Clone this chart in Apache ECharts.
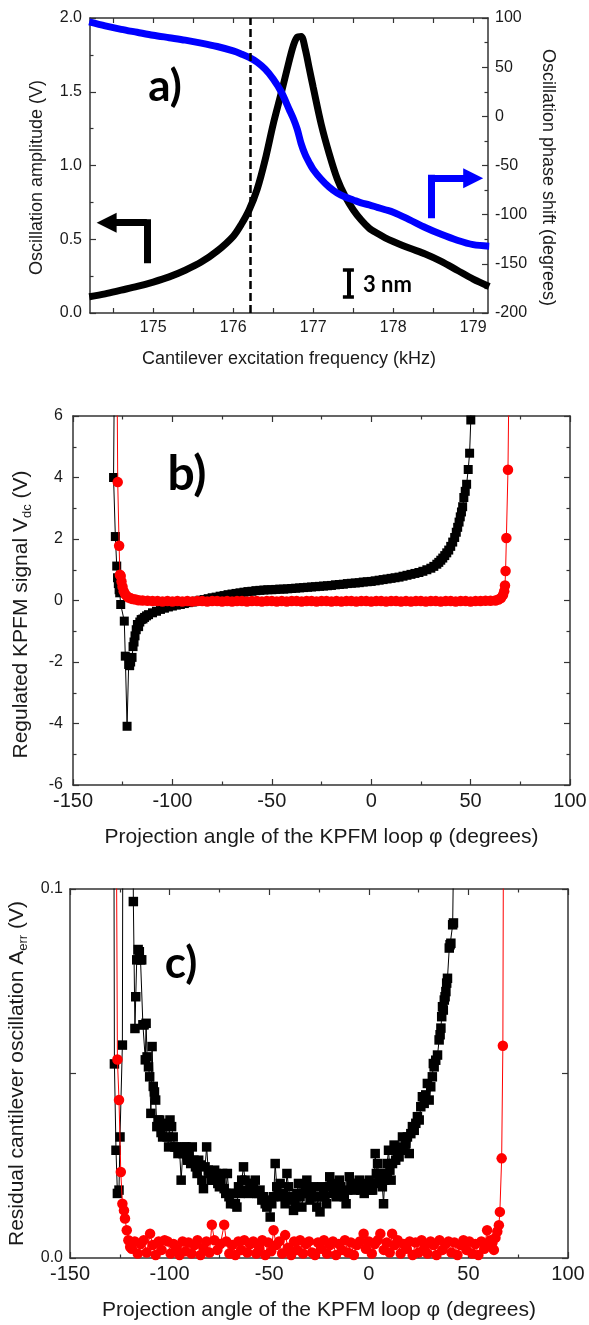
<!DOCTYPE html>
<html><head><meta charset="utf-8">
<script src="https://cdn.jsdelivr.net/npm/echarts@6/dist/echarts.min.js"></script>
<style>html,body{margin:0;padding:0;background:#fff}#c{width:589px;height:1325px}</style>
</head><body><div id="c"></div>
<script>
// ---------- Panel a) ----------
const freq = [174.2, 174.4, 174.6, 174.8, 175.0, 175.2, 175.4, 175.6, 175.8, 176.0,
  176.1, 176.2, 176.3, 176.4, 176.5, 176.6, 176.7, 176.75, 176.8, 176.85, 176.9, 176.95,
  177.0, 177.1, 177.2, 177.3, 177.4, 177.5, 177.6, 177.7, 177.8, 177.9, 178.0,
  178.2, 178.4, 178.6, 178.8, 179.0, 179.2];
const amplitude = [0.11, 0.13, 0.155, 0.18, 0.21, 0.245, 0.29, 0.345, 0.42, 0.52,
  0.60, 0.70, 0.84, 1.04, 1.28, 1.49, 1.71, 1.81, 1.87, 1.875, 1.79, 1.66,
  1.53, 1.28, 1.08, 0.91, 0.79, 0.70, 0.63, 0.575, 0.54, 0.51, 0.485,
  0.44, 0.40, 0.35, 0.29, 0.23, 0.18];
const phase = [96, 92, 88.5, 85.5, 82.5, 80, 77.5, 74.5, 71, 66.5,
  63.5, 60, 55, 48, 38, 25, 7, -2, -13, -28, -39, -47,
  -54, -64, -72, -78, -82, -85, -88, -90, -92.5, -95, -97.5,
  -105, -113, -120, -126, -130.5, -132];
const freqTickLabels = [175, 176, 177, 178, 179];
const freqTickMarks = [174.5, 175, 175.5, 176, 176.5, 177, 177.5, 178, 178.5, 179];
const workingFreq = 176.21;

// ---------- Panel b) ----------
const angleBBlack = [-129.0, -129.6, -128.7, -128.0, -127.6, -127.2, -126.8, -126.5, -126.0,
  -124.2, -123.7, -122.8, -122.0, -121.5, -121.0, -120.3, -119.8, -119.3, -118.8,
  -118.2, -117.6, -117.0, -116.4, -115.7, -114.8, -114.0, -113.0, -112.0,
  -110, -108, -106, -104, -102, -100,
  -98, -96, -94, -92, -90, -88, -86, -84, -82, -80,
  -78, -76, -74, -72, -70, -68, -66, -64, -62, -60,
  -58, -56, -54, -52, -50, -48, -46, -44, -42, -40,
  -38, -36, -34, -32, -30, -28, -26, -24, -22, -20,
  -18, -16, -14, -12, -10, -8, -6, -4, -2, 0,
  2, 4, 6, 8, 10, 12, 14, 16, 18, 20,
  22, 24, 26, 28, 30,
  31.5, 33, 34, 35, 36, 37, 38, 39, 40, 41, 42,
  42.8, 43.5, 44.2, 44.8, 45.4, 46.0, 46.6, 47.3, 48.0, 48.8, 49.5, 50.1, 50.6];
const vdcBlack = [9, 4.0, 2.08, 1.12, 0.74, 0.55, 0.35, 0.25, -0.13,
  -0.67, -1.81, -4.09, -2.08, -2.12, -2.0, -1.85, -1.5, -1.35, -1.15,
  -0.95, -0.78, -0.85, -0.70, -0.62, -0.60, -0.55, -0.50, -0.46,
  -0.40, -0.35, -0.29, -0.25, -0.21, -0.18,
  -0.15, -0.13, -0.10, -0.07, -0.05, -0.02, 0.01, 0.03, 0.06, 0.09,
  0.11, 0.14, 0.16, 0.19, 0.21, 0.23, 0.25, 0.27, 0.29, 0.30,
  0.32, 0.33, 0.34, 0.35, 0.35, 0.36, 0.37, 0.37, 0.38, 0.39,
  0.40, 0.41, 0.42, 0.43, 0.44, 0.45, 0.46, 0.47, 0.48, 0.49,
  0.51, 0.52, 0.53, 0.55, 0.56, 0.57, 0.58, 0.60, 0.61, 0.62,
  0.64, 0.66, 0.68, 0.70, 0.72, 0.74, 0.76, 0.79, 0.82, 0.85,
  0.88, 0.91, 0.95, 1.00, 1.05,
  1.11, 1.18, 1.24, 1.31, 1.38, 1.46, 1.55, 1.64, 1.76, 1.90, 2.05,
  2.22, 2.38, 2.55, 2.72, 2.88, 3.05, 3.35, 3.55, 3.78, 4.26, 4.79, 5.87, 9];
const angleBRed = [-128.0, -127.5, -126.8, -126.4, -126.0, -125.6, -125.1, -124.5, -123.8, -123.0,
  -122.0, -121.0, -120.0, -118.5, -117.0,
  -115, -112.5, -110, -107.5, -105, -102.5, -100, -97.5, -95, -92.5,
  -90, -87.5, -85, -82.5, -80, -77.5, -75, -72.5, -70, -67.5,
  -65, -62.5, -60, -57.5, -55, -52.5, -50, -47.5, -45, -42.5,
  -40, -37.5, -35, -32.5, -30, -27.5, -25, -22.5, -20, -17.5,
  -15, -12.5, -10, -7.5, -5, -2.5, 0, 2.5, 5, 7.5,
  10, 12.5, 15, 17.5, 20, 22.5, 25, 27.5, 30, 32.5,
  35, 37.5, 40, 42.5, 45, 47.5, 50, 52.5, 55, 57.5, 60, 62.5,
  64, 65.3, 66.3, 66.9, 67.3, 67.6, 68.0, 68.8, 69.6];
const vdcRed = [9, 3.85, 1.78, 0.84, 0.80, 0.62, 0.45, 0.30, 0.21, 0.15,
  0.10, 0.07, 0.05, 0.03, 0.01,
  0.0, -0.01, -0.02, -0.02, -0.03, -0.02, -0.03, -0.02, -0.03, -0.02,
  -0.03, -0.02, -0.02, -0.03, -0.02, -0.02, -0.03, -0.02, -0.03, -0.02,
  -0.02, -0.03, -0.02, -0.02, -0.03, -0.02, -0.02, -0.03, -0.02, -0.03,
  -0.02, -0.02, -0.03, -0.02, -0.02, -0.03, -0.02, -0.02, -0.03, -0.02,
  -0.03, -0.02, -0.02, -0.03, -0.02, -0.02, -0.03, -0.02, -0.02, -0.03,
  -0.02, -0.02, -0.03, -0.02, -0.03, -0.02, -0.02, -0.03, -0.02, -0.02,
  -0.03, -0.02, -0.02, -0.03, -0.02, -0.02, -0.03, -0.02, -0.02, -0.01, -0.01, 0.0,
  0.03, 0.08, 0.18, 0.30, 0.49, 0.96, 2.03, 4.25, 9];

// ---------- Panel c) ----------
const angleCBlack = [-128.3, -127.7, -126.9, -126.2, -125.4, -124.9, -123.7, -123.0, -121.0, -119.0,
  -118.2, -117.4, -117.0, -116.5, -115.8, -115.2, -114.6, -114.0, -113.4, -112.8,
  -112.2, -111.8, -111.3, -110.6, -110.0, -109.4, -108.8, -108.2, -107.6, -107.0,
  -106.4, -105.8, -105.0, -104.3, -103.5, -102.8, -102.0, -101.2, -100.5, -99.8,
  -99.0, -98.2, -97.4, -96.6, -95.8, -95.0, -94.2, -93.4, -92.6, -91.8,
  -91.0, -90.2, -89.4, -88.6, -87.8, -87.0, -86.2, -85.4, -84.6, -83.8,
  -83.0, -82.2, -81.4, -80.6, -79.8, -79.0, -78.2, -77.4, -76.6, -75.8,
  -75.0, -74.2, -73.4, -72.6, -71.8, -71.0, -70.2, -69.4, -68.6, -67.8,
  -67.0, -66.2, -65.4, -64.6, -63.8, -62.9, -62.1, -61.3, -60.4, -59.6,
  -58.7, -57.9, -57.0, -56.2, -55.4, -54.6, -53.7, -52.8, -52.0, -51.2,
  -50.3, -49.5, -48.7, -47.8, -47.0, -46.2, -45.3, -44.5, -43.6, -42.8,
  -42.0, -41.1, -40.3, -39.4, -38.6, -37.8, -37.0, -36.1, -35.3, -34.5,
  -33.6, -32.8, -32.0, -31.1, -30.3, -29.5, -28.6, -27.8, -27.0, -26.1,
  -25.3, -24.5, -23.6, -22.8, -22.0, -21.2, -20.4, -19.6, -18.8, -18.0,
  -17.2, -16.4, -15.6, -14.8, -14.0, -13.1, -12.3, -11.4, -10.6, -9.8,
  -9.0, -8.1, -7.3, -6.5, -5.6, -4.8, -4.0, -3.1, -2.3, -1.5,
  -0.6, 0.2, 1.0, 1.9, 2.7, 3.2, 3.8, 4.4, 5.2, 6.1,
  6.8, 7.4, 8.0, 8.5, 9.2, 9.9, 10.6, 11.2, 11.9, 12.7,
  13.5, 14.4, 15.2, 16.0, 16.9, 17.7, 18.6, 19.4, 20.3, 21.1,
  21.9, 22.8, 23.6, 24.4, 25.3, 26.1, 26.9, 27.8, 28.6, 29.4,
  30.3, 31.1, 31.9, 32.4, 32.8, 33.6, 34.5, 35.3, 35.8, 36.2,
  36.6, 37.0, 37.4, 37.9, 38.3, 38.7, 39.1, 39.5, 40.4, 40.8,
  41.2, 42.1, 42.5, 43.5];
const aerrBlack = [0.2, 0.0526, 0.0292, 0.0175, 0.0184, 0.0328, 0.0577, 0.25, 0.3, 0.2,
  0.0966, 0.0622, 0.0708, 0.0808, 0.0836, 0.083, 0.0808, 0.0808, 0.0632, 0.0632,
  0.0537, 0.0636, 0.0545, 0.0518, 0.0491, 0.0392, 0.0573, 0.0465, 0.045, 0.0428,
  0.0356, 0.0374, 0.0374, 0.034, 0.0328, 0.0365, 0.0356, 0.0328, 0.0301, 0.0374,
  0.0356, 0.0328, 0.0301, 0.0301, 0.0283, 0.0292, 0.0211, 0.0283, 0.0301, 0.0301,
  0.0265, 0.0283, 0.0256, 0.0301, 0.0265, 0.0247, 0.0229, 0.0265, 0.0252, 0.0211,
  0.0188, 0.0247, 0.0301, 0.0238, 0.0229, 0.0211, 0.0211, 0.0238, 0.0229, 0.0202,
  0.0193, 0.0211, 0.0229, 0.0188, 0.0175, 0.0229, 0.0166, 0.0147, 0.0175, 0.0175,
  0.0147, 0.0138, 0.0193, 0.0175, 0.0211, 0.0247, 0.0211, 0.0184, 0.0175, 0.0202,
  0.0202, 0.0193, 0.0211, 0.0175, 0.0175, 0.0184, 0.0157, 0.0166, 0.0147, 0.0138,
  0.0157, 0.0111, 0.0147, 0.0166, 0.0256, 0.0193, 0.0175, 0.0202, 0.0166, 0.0175,
  0.0147, 0.0229, 0.0193, 0.0157, 0.0166, 0.0129, 0.0147, 0.0175, 0.0202, 0.0166,
  0.0138, 0.0175, 0.0193, 0.0211, 0.0175, 0.0157, 0.0175, 0.0193, 0.0166, 0.0138,
  0.0166, 0.0125, 0.0193, 0.0175, 0.0166, 0.0147, 0.0193, 0.022, 0.0202, 0.0175,
  0.0184, 0.0166, 0.0193, 0.0211, 0.0193, 0.0175, 0.0166, 0.0147, 0.0184, 0.022,
  0.0202, 0.0193, 0.0184, 0.0202, 0.0193, 0.0211, 0.0184, 0.0193, 0.0175, 0.0202,
  0.0193, 0.0211, 0.0184, 0.0184, 0.0202, 0.0283, 0.0229, 0.0256, 0.0211, 0.0229,
  0.0193, 0.0147, 0.0211, 0.0229, 0.0256, 0.0292, 0.0238, 0.0211, 0.0256, 0.0306,
  0.0265, 0.0283, 0.0274, 0.0301, 0.0328, 0.0292, 0.031, 0.0328, 0.0283, 0.0337,
  0.0356, 0.0346, 0.0365, 0.0383, 0.0374, 0.041, 0.0437, 0.0419, 0.0442, 0.0473,
  0.0428, 0.0464, 0.0491, 0.0527, 0.0518, 0.0536, 0.055, 0.0591, 0.0605, 0.0623,
  0.0654, 0.0681, 0.0672, 0.0699, 0.0708, 0.0722, 0.0745, 0.0758, 0.084, 0.0849,
  0.0853, 0.0903, 0.0908, 0.15];
const angleCRed = [-127.4, -126.2, -125.4, -124.5, -123.7, -122.9, -122.4, -121.5, -120.7, -119.8,
  -119.0, -117.5, -116.0, -114.5, -113.0, -111.5, -109.8, -108.5, -107.0, -105.5,
  -104.0, -102.5, -101.0, -99.5, -98.0, -96.5, -95.0, -93.5, -92.0, -90.5,
  -89.0, -87.5, -86.0, -84.5, -83.0, -81.5, -80.0, -78.8, -77.5, -76.0,
  -74.5, -72.6, -71.5, -70.0, -68.5, -67.0, -65.5, -64.0, -62.5, -61.0,
  -59.5, -58.0, -56.5, -55.0, -53.5, -52.0, -50.5, -49.0, -47.8, -46.5,
  -45.0, -43.5, -42.0, -40.5, -39.0, -37.5, -36.0, -34.5, -33.0, -31.5,
  -30.0, -28.5, -27.0, -25.5, -24.0, -22.5, -21.0, -19.5, -18.0, -16.5,
  -15.0, -13.5, -12.0, -10.5, -9.0, -7.5, -6.0, -4.5, -2.6, -1.5,
  0.0, 1.5, 3.0, 4.5, 5.8, 7.5, 9.0, 10.5, 11.7, 13.0,
  14.5, 16.0, 17.5, 19.0, 20.5, 22.0, 23.5, 25.0, 26.5, 28.0,
  29.5, 31.0, 32.5, 34.0, 35.5, 37.0, 38.5, 40.0, 41.5, 43.0,
  44.5, 46.0, 47.5, 49.0, 50.5, 52.0, 53.5, 55.0, 56.5, 58.0,
  59.4, 60.3, 61.1, 62.0, 62.8, 63.6, 64.5, 65.3, 65.8, 66.7, 67.3, 68.0];
const aerrRed = [0.2, 0.0538, 0.0428, 0.0233, 0.0147, 0.0129, 0.0107, 0.0075, 0.0048, 0.003,
  0.0025, 0.0045, 0.0012, 0.0038, 0.0048, 0.0015, 0.0066, 0.0035, 0.0008, 0.0045,
  0.0022, 0.0048, 0.0045, 0.0012, 0.0038, 0.0025, 0.0008, 0.0045, 0.0018, 0.0042,
  0.0012, 0.0035, 0.0048, 0.0008, 0.0028, 0.0045, 0.0015, 0.009, 0.0048, 0.0022,
  0.0038, 0.009, 0.0045, 0.0012, 0.0035, 0.0008, 0.0045, 0.0022, 0.0048, 0.0015,
  0.0038, 0.0045, 0.0012, 0.0028, 0.0048, 0.0008, 0.0042, 0.0018, 0.0075, 0.0035,
  0.0045, 0.0012, 0.0062, 0.0028, 0.0008, 0.0045, 0.0022, 0.0048, 0.0012, 0.0038,
  0.0045, 0.0015, 0.0008, 0.0042, 0.0025, 0.0048, 0.0012, 0.0035, 0.0045, 0.0008,
  0.0038, 0.0022, 0.0048, 0.0015, 0.0042, 0.0008, 0.0035, 0.0045, 0.0066, 0.0025,
  0.0045, 0.0012, 0.0038, 0.0048, 0.0066, 0.0022, 0.0042, 0.0015, 0.0066, 0.0035,
  0.0048, 0.0012, 0.0038, 0.0025, 0.0045, 0.0008, 0.0042, 0.0015, 0.0048, 0.0028,
  0.0012, 0.0045, 0.0035, 0.0008, 0.0048, 0.0022, 0.0038, 0.0045, 0.0015, 0.0042,
  0.0008, 0.0035, 0.0048, 0.0022, 0.0045, 0.0012, 0.0038, 0.0008, 0.0045, 0.0025,
  0.0075, 0.0035, 0.0048, 0.004, 0.0022, 0.0055, 0.0072, 0.0089, 0.0125, 0.027, 0.0575, 0.2];

// ---------- rendering ----------
const FONT = '"Liberation Sans", Arial, Helvetica, sans-serif';
const AX = '#333333';
const TXT = '#1a1a1a';
function zip(a, b) { return a.map((v, i) => [v, b[i]]); }

function mkAxis(o) {
  const ax = {
    type: 'value', gridIndex: o.grid, position: o.pos, min: o.min, max: o.max,
    axisLine: { show: true, onZero: false, lineStyle: { color: AX, width: 1.5 } },
    axisTick: { show: true, inside: true, length: o.tickLen || 6, lineStyle: { color: AX, width: 1.2 } },
    minorTick: { show: !!o.minor, splitNumber: 2, length: 3.5, lineStyle: { color: AX, width: 1.2 } },
    splitLine: { show: false }, minorSplitLine: { show: false },
    axisLabel: { show: !!o.label, color: TXT, fontFamily: FONT, fontSize: o.fs || 16, margin: o.margin || 8 }
  };
  if (o.interval != null) ax.interval = o.interval;
  if (o.tickValues) ax.axisTick.customValues = o.tickValues;
  if (o.labelValues) ax.axisLabel.customValues = o.labelValues;
  if (o.formatter) ax.axisLabel.formatter = o.formatter;
  if (o.name) {
    ax.name = o.name; ax.nameLocation = 'middle'; ax.nameGap = o.nameGap;
    if (o.nameRotate != null) ax.nameRotate = o.nameRotate;
    ax.nameTextStyle = Object.assign({ color: TXT, fontFamily: FONT, fontSize: o.nfs || 18 }, o.nts || {});
  }
  return ax;
}

const subRich = {
  n: { fontSize: 21, fontFamily: FONT, color: TXT, lineHeight: 26, verticalAlign: 'middle' },
  s: { fontSize: 13, fontFamily: FONT, color: TXT, lineHeight: 16, verticalAlign: 'bottom' }
};

const option = {
  animation: false,
  backgroundColor: '#ffffff',
  grid: [
    { left: 90, top: 18, width: 398, height: 295, containLabel: false, outerBoundsMode: 'none' },
    { left: 73, top: 416, width: 497, height: 369, containLabel: false, outerBoundsMode: 'none' },
    { left: 70, top: 889, width: 498, height: 369, containLabel: false, outerBoundsMode: 'none' }
  ],
  xAxis: [
    mkAxis({ grid: 0, pos: 'bottom', min: 174.21, max: 179.185, label: true, fs: 16, margin: 7,
      tickValues: freqTickMarks, labelValues: freqTickLabels, tickLen: 5,
      name: 'Cantilever excitation frequency (kHz)', nameGap: 37, nfs: 18 }),
    mkAxis({ grid: 0, pos: 'top', min: 174.21, max: 179.185, tickValues: freqTickMarks, tickLen: 5 }),
    mkAxis({ grid: 1, pos: 'bottom', min: -150, max: 100, interval: 50, minor: true, label: true, fs: 20, margin: 6,
      name: 'Projection angle of the KPFM loop \u03c6 (degrees)', nameGap: 42, nfs: 21 }),
    mkAxis({ grid: 1, pos: 'top', min: -150, max: 100, interval: 50, minor: true }),
    mkAxis({ grid: 2, pos: 'bottom', min: -150, max: 100, interval: 50, minor: true, label: true, fs: 20, margin: 6,
      name: 'Projection angle of the KPFM loop \u03c6 (degrees)', nameGap: 42, nfs: 21 }),
    mkAxis({ grid: 2, pos: 'top', min: -150, max: 100, interval: 50, minor: true })
  ],
  yAxis: [
    mkAxis({ grid: 0, pos: 'left', min: 0, max: 2, interval: 0.5, minor: true, label: true, fs: 16, margin: 8,
      formatter: v => v.toFixed(1),
      name: 'Oscillation amplitude (V)', nameGap: 44, nfs: 18, nts: { padding: [0, 24, 0, 0] } }),
    mkAxis({ grid: 0, pos: 'right', min: -200, max: 100, interval: 50, minor: true, label: true, fs: 16, margin: 7,
      name: 'Oscillation phase shift (degrees)', nameGap: 51, nameRotate: -90, nfs: 18, nts: { padding: [0, 0, 0, 24] } }),
    mkAxis({ grid: 1, pos: 'left', min: -6, max: 6, interval: 2, minor: true, label: true, fs: 16, margin: 10,
      name: '{n|Regulated KPFM signal V}{s|dc}{n| (V)}', nameGap: 39,
      nts: { rich: subRich, padding: [0, 28, 0, 0] } }),
    mkAxis({ grid: 1, pos: 'right', min: -6, max: 6, interval: 2, minor: true }),
    mkAxis({ grid: 2, pos: 'left', min: 0, max: 0.1, interval: 0.05, label: true, fs: 16, margin: 7,
      formatter: v => (Math.abs(v - 0.05) < 1e-9 ? '' : v.toFixed(1)),
      name: '{n|Residual cantilever oscillation A}{s|err}{n| (V)}', nameGap: 37,
      nts: { rich: subRich } }),
    mkAxis({ grid: 2, pos: 'right', min: 0, max: 0.1, interval: 0.05 })
  ],
  series: [
    { type: 'line', xAxisIndex: 0, yAxisIndex: 0, data: zip(freq, amplitude), symbol: 'none', smooth: 0.3,
      lineStyle: { color: '#000', width: 7 }, z: 3,
      markLine: { silent: true, symbol: ['none', 'none'], label: { show: false },
        lineStyle: { color: '#000', type: [8, 4], width: 2.5 }, data: [{ xAxis: workingFreq }] } },
    { type: 'line', xAxisIndex: 0, yAxisIndex: 1, data: zip(freq, phase), symbol: 'none', smooth: 0.3,
      lineStyle: { color: '#0000ff', width: 7 }, z: 4 },
    // left-pointing black arrow (amplitude axis) + 3 nm scale bar
    { type: 'lines', coordinateSystem: 'cartesian2d', xAxisIndex: 0, yAxisIndex: 0, silent: true, z: 6,
      symbol: 'none', lineStyle: { color: '#000', width: 7, opacity: 1, curveness: 0, cap: 'square' },
      data: [
        { coords: [[174.92, 0.361], [174.92, 0.612]] },
        { coords: [[177.44, 0.108], [177.44, 0.292]], lineStyle: { width: 4, cap: 'butt' } },
        { coords: [[177.371, 0.292], [177.509, 0.292]], lineStyle: { width: 3.5, cap: 'butt' } },
        { coords: [[177.371, 0.108], [177.509, 0.108]], lineStyle: { width: 3.5, cap: 'butt' } }
      ] },
    { type: 'lines', coordinateSystem: 'cartesian2d', xAxisIndex: 0, yAxisIndex: 0, silent: true, z: 6,
      symbol: ['none', 'triangle'], symbolSize: 20,
      lineStyle: { color: '#000', width: 7, opacity: 1, curveness: 0 },
      data: [{ coords: [[174.92, 0.612], [174.4175, 0.612]] }] },
    // right-pointing blue arrow (phase axis)
    { type: 'lines', coordinateSystem: 'cartesian2d', xAxisIndex: 0, yAxisIndex: 1, silent: true, z: 6,
      symbol: 'none', lineStyle: { color: '#0000ff', width: 7, opacity: 1, curveness: 0, cap: 'square' },
      data: [{ coords: [[178.47, -100.1], [178.47, -63]] }] },
    { type: 'lines', coordinateSystem: 'cartesian2d', xAxisIndex: 0, yAxisIndex: 1, silent: true, z: 6,
      symbol: ['none', 'triangle'], symbolSize: 20,
      lineStyle: { color: '#0000ff', width: 7, opacity: 1, curveness: 0 },
      data: [{ coords: [[178.47, -63], [179.0, -63]] }] },
    // panel b
    { type: 'line', xAxisIndex: 2, yAxisIndex: 2, data: zip(angleBBlack, vdcBlack), symbol: 'rect', symbolSize: 9,
      lineStyle: { color: '#000', width: 1 }, itemStyle: { color: '#000' }, z: 3 },
    { type: 'line', xAxisIndex: 2, yAxisIndex: 2, data: zip(angleBRed, vdcRed), symbol: 'circle', symbolSize: 10.5,
      lineStyle: { color: '#ff0000', width: 1 }, itemStyle: { color: '#ff0000' }, z: 4 },
    // panel c
    { type: 'line', xAxisIndex: 4, yAxisIndex: 4, data: zip(angleCBlack, aerrBlack), symbol: 'rect', symbolSize: 9.5,
      lineStyle: { color: '#000', width: 1 }, itemStyle: { color: '#000' }, z: 3 },
    { type: 'line', xAxisIndex: 4, yAxisIndex: 4, data: zip(angleCRed, aerrRed), symbol: 'circle', symbolSize: 10.5,
      lineStyle: { color: '#ff0000', width: 1 }, itemStyle: { color: '#ff0000' }, z: 4 }
  ],
  graphic: [
    { type: 'text', x: 165, y: 87, z: 10, silent: true,
      style: { text: 'a)', font: 'bold 44px Lato, "Open Sans", sans-serif', fill: '#000', align: 'center', verticalAlign: 'middle', textAlign: 'center', textVerticalAlign: 'middle' } },
    { type: 'text', x: 187, y: 475, z: 10, silent: true,
      style: { text: 'b)', font: 'bold 48px Lato, "Open Sans", sans-serif', fill: '#000', align: 'center', verticalAlign: 'middle', textAlign: 'center', textVerticalAlign: 'middle' } },
    { type: 'text', x: 181, y: 964, z: 10, silent: true,
      style: { text: 'c)', font: 'bold 44px Lato, "Open Sans", sans-serif', fill: '#000', align: 'center', verticalAlign: 'middle', textAlign: 'center', textVerticalAlign: 'middle' } },
    { type: 'text', x: 363, y: 285, z: 10, silent: true,
      style: { text: '3 nm', font: 'bold 22px Lato, "Open Sans", sans-serif', fill: '#000', align: 'left', verticalAlign: 'middle', textAlign: 'left', textVerticalAlign: 'middle' } }
  ]
};

const chart = echarts.init(document.getElementById('c'), null, { renderer: 'canvas' });
chart.setOption(option);
</script></body></html>
